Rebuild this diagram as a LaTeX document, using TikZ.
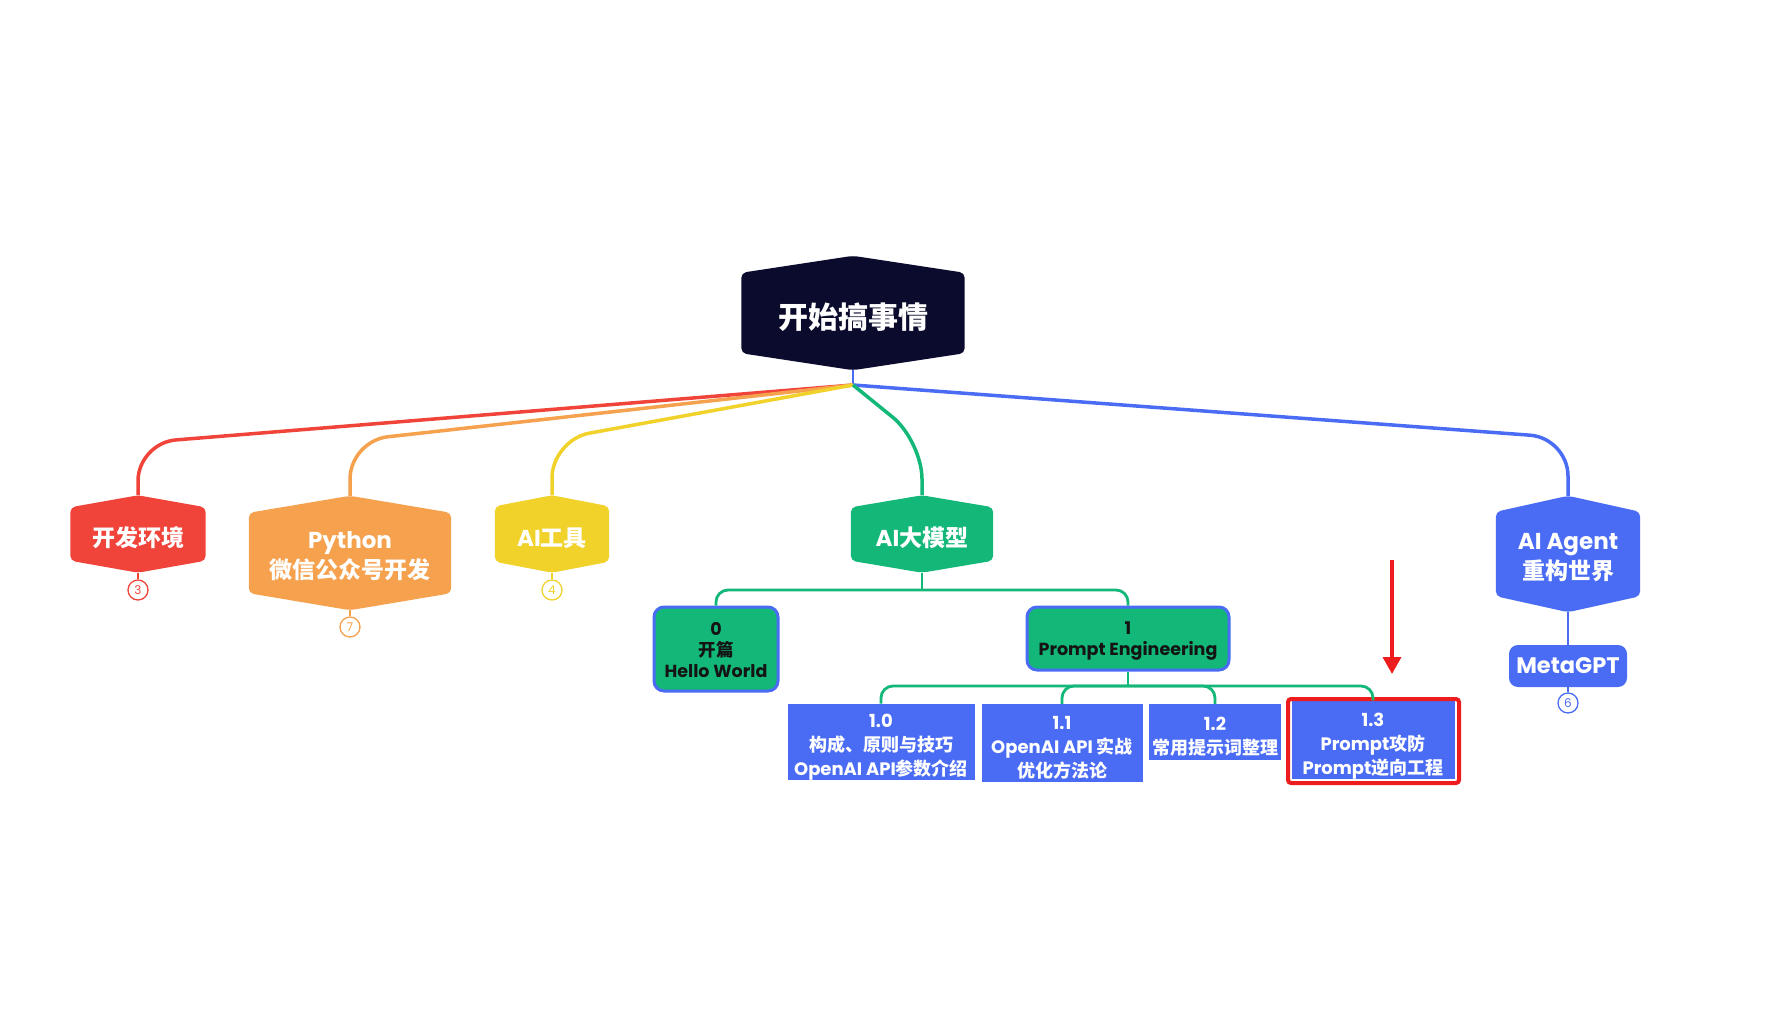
\documentclass[tikz,border=0pt]{standalone}
\usepackage{fontspec}
\setmainfont{Poppins}
\newfontfamily\cjk{Noto Sans CJK SC}
\usetikzlibrary{arrows.meta,positioning,calc,backgrounds}
\definecolor{RootInk}{HTML}{0B0B2E}
\definecolor{MapRed}{HTML}{F0443A}
\definecolor{MapOrange}{HTML}{F5A14D}
\definecolor{MapYellow}{HTML}{F1D22B}
\definecolor{MapGreen}{HTML}{13B879}
\definecolor{MapBlue}{HTML}{4A6CF5}
\definecolor{MarkRed}{HTML}{EE1D1D}
\definecolor{NoteInk}{HTML}{141414}
\newcommand{\zh}[1]{{\cjk #1}}
\newcommand{\lift}[1][1.3em]{\rule{0pt}{#1}}
% hexagon body behind a named node (node, colour, point height)
\newcommand{\hexfill}[3]{%
  \fill[#2, rounded corners=5pt] (#1.north) -- ($(#1.north west)+(0,#3)$) -- ($(#1.south west)+(0,-#3)$)
    -- (#1.south) -- ($(#1.south east)+(0,-#3)$) -- ($(#1.north east)+(0,#3)$) -- cycle;}
\tikzset{
  hexbox/.style={inner sep=0pt, align=center, text=white, font=\bfseries\fontsize{23}{30}\selectfont},
  greenbox/.style={rounded corners=10pt, draw=MapBlue, fill=MapGreen, line width=3pt, align=center, inner sep=0pt, text=NoteInk, font=\bfseries\fontsize{17.5}{21}\selectfont},
  bluebox/.style={fill=MapBlue, align=center, inner sep=0pt, text=white, font=\bfseries\fontsize{18}{24}\selectfont},
  metabox/.style={rounded corners=9pt, fill=MapBlue, align=center, inner sep=0pt, text=white, font=\bfseries\fontsize{22.5}{26}\selectfont},
  badge/.style={circle, draw=#1, text=#1, fill=white, line width=1.3pt, minimum size=20pt, inner sep=0pt, font=\fontsize{12}{12}\selectfont},
  markframe/.style={draw=MarkRed, line width=4pt, rounded corners=3pt},
  branch/.style={line width=3.5pt, draw=#1, rounded corners=38pt},
  twig/.style={line width=2.8pt, draw=#1, rounded corners=12pt},
  stub/.style={line width=1.3pt, draw=#1},
  markarrow/.style={-{Triangle[length=17pt, width=18pt]}, line width=3.5pt, draw=MarkRed}
}

\begin{document}
\begin{tikzpicture}[x=1pt, y=-1pt]
  \useasboundingbox (0,0) rectangle (1783,1036);

  % root and main branches
  \node[hexbox, minimum width=223pt, minimum height=114pt, font=\bfseries\fontsize{30}{36}\selectfont] (root) at (853,313) {\lift[1.15em]\zh{开始搞事情}};
  \node[hexbox, minimum width=135pt, minimum height=77pt] (devenv) at (138,534) {\lift[1.15em]\zh{开发环境}};
  \node[hexbox, minimum width=202pt, minimum height=114pt] (wechat) at (350,553) {\lift[1em]Python\\\zh{微信公众号开发}};
  \node[hexbox, minimum width=114pt, minimum height=77pt] (aitool) at (552,534) {\lift[1.15em]AI\zh{工具}};
  \node[hexbox, minimum width=142pt, minimum height=77pt] (llm) at (922,534) {\lift[1.15em]AI\zh{大模型}};
  \node[hexbox, minimum width=144pt, minimum height=116pt] (agent) at (1568,554) {\lift[1em]AI Agent\\\zh{重构世界}};

  % AI model subtree
  \node[greenbox, minimum width=124pt, minimum height=84pt] (intro) at (716,649) {\lift[0.9em]0\\\zh{开篇}\\Hello World};
  \node[greenbox, minimum width=202pt, minimum height=63pt] (prompt) at (1128,638.5) {\lift[1.05em]1\\Prompt Engineering};
  \node[bluebox, minimum width=187pt, minimum height=76pt] (basics) at (881,742) {\lift 1.0\\\zh{构成、原则与技巧}\\OpenAI API\zh{参数介绍}};
  \node[bluebox, minimum width=161pt, minimum height=78pt] (apiwork) at (1062,743) {\lift 1.1\\OpenAI API \zh{实战}\\\zh{优化方法论}};
  \node[bluebox, minimum width=132pt, minimum height=56pt] (cheat) at (1215,732) {\lift 1.2\\\zh{常用提示词整理}};
  \node[bluebox, minimum width=163pt, minimum height=72pt] (attack) at (1373,740) {\lift[1.45em]1.3\\Prompt\zh{攻防}\\Prompt\zh{逆向工程}};
  \node[markframe, minimum width=171pt, minimum height=84pt] (mark) at (1373.5,741) {};

  \node[metabox, minimum width=118pt, minimum height=42pt] (metagpt) at (1568,666) {MetaGPT};

  % counters
  \node[badge=MapRed] (devenv-n) at (138,590) {3};
  \node[badge=MapOrange] (wechat-n) at (350,627) {7};
  \node[badge=MapYellow] (aitool-n) at (552,590) {4};
  \node[badge=MapBlue] (metagpt-n) at (1568,703) {6};

  \begin{scope}[on background layer]
    \fill[white] (0,0) rectangle (1783,1036);
    \hexfill{root}{RootInk}{17}
    \hexfill{devenv}{MapRed}{12}
    \hexfill{wechat}{MapOrange}{17}
    \hexfill{aitool}{MapYellow}{11}
    \hexfill{llm}{MapGreen}{12}
    \hexfill{agent}{MapBlue}{16}
  \end{scope}

  \coordinate (hub) at (853,385);
  \draw[twig=MapBlue] (root.south) -- (hub);
  \draw[branch=MapRed] (hub) -- (devenv.north |- 0,443) -- (devenv.north);
  \draw[branch=MapOrange] (hub) -- (wechat.north |- 0,441) -- (wechat.north);
  \draw[branch=MapYellow] (hub) -- (aitool.north |- 0,440) -- (aitool.north);
  \draw[branch=MapBlue] (hub) -- (agent.north |- 0,438) -- (agent.north);
  \draw[branch=MapGreen] (hub) -- (llm.north |- 0,441) -- (llm.north);

  \coordinate (llm-fork) at (llm.south |- 0,590);
  \draw[twig=MapGreen] (llm.south) -- (llm-fork);
  \draw[twig=MapGreen] (llm-fork) -- (intro.north |- llm-fork) -- (intro.north);
  \draw[twig=MapGreen] (llm-fork) -- (prompt.north |- llm-fork) -- (prompt.north);

  \coordinate (prompt-fork) at (prompt.south |- 0,686);
  \draw[twig=MapGreen] (prompt.south) -- (prompt-fork);
  \foreach \leaf in {basics,apiwork,cheat,attack}
    \draw[twig=MapGreen] (prompt-fork) -- (\leaf.north |- prompt-fork) -- (\leaf.north);

  \draw[twig=MapBlue] (agent.south) -- (metagpt.north);

  \draw[stub=MapRed] (devenv.south) -- (devenv-n);
  \draw[stub=MapOrange] (wechat.south) -- (wechat-n);
  \draw[stub=MapYellow] (aitool.south) -- (aitool-n);
  \draw[stub=MapBlue] (metagpt.south) -- (metagpt-n);

  % pointer to the highlighted topic
  \coordinate (pointer-top) at (1392,560);
  \coordinate (pointer-tip) at (1392,674);
  \draw[markarrow] (pointer-top) -- (pointer-tip);
\end{tikzpicture}
\end{document}
